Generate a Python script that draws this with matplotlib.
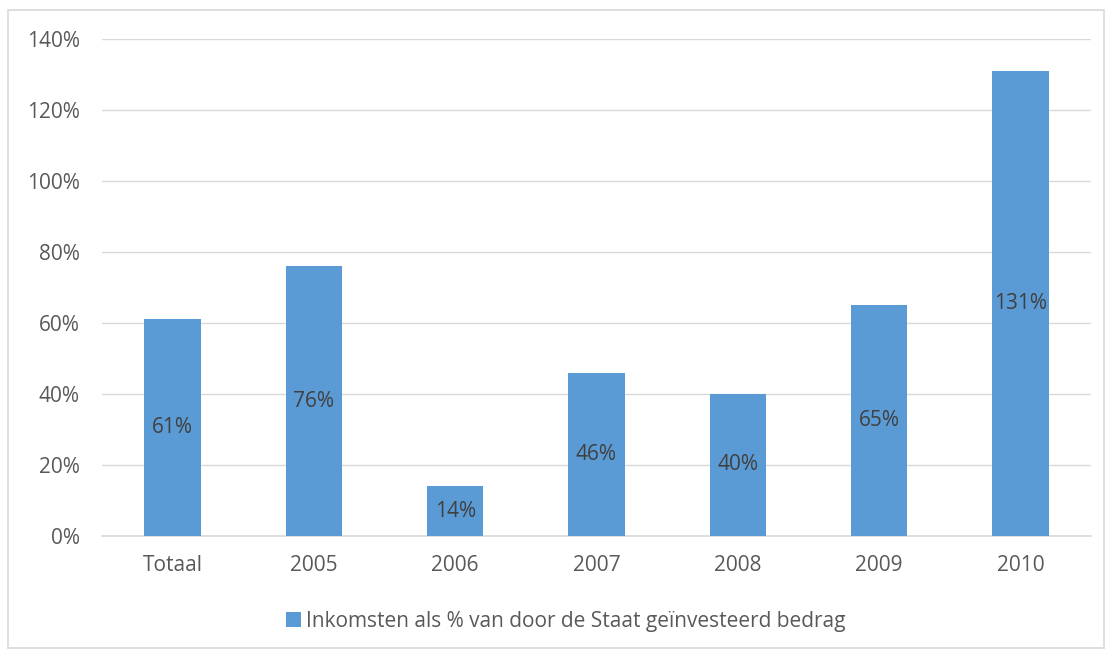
import matplotlib
matplotlib.use("Agg")
import matplotlib.pyplot as plt
from matplotlib.patches import Rectangle

categories = ["Totaal", "2005", "2006", "2007", "2008", "2009", "2010"]
values = [61, 76, 14, 46, 40, 65, 131]
value_labels = ["61%", "76%", "14%", "46%", "40%", "65%", "131%"]
yticks = [0, 20, 40, 60, 80, 100, 120, 140]
legend_label = "Inkomsten als % van door de Staat geïnvesteerd bedrag"

bar_color = "#5B9BD5"
text_color = "#595959"
label_color = "#404040"
grid_color = "#D9D9D9"

plt.rcParams['font.family'] = ['Open Sans', 'DejaVu Sans']
FS = 15

W, H = 1112, 652
fig = plt.figure(figsize=(W / 100, H / 100), dpi=100)
ax = fig.add_axes([102 / W, 1 - 536 / H, (1091 - 102) / W, (536 - 39) / H])

x = list(range(len(categories)))
bars = ax.bar(x, values, width=0.40, color=bar_color, zorder=3, label=legend_label)
ax.set_xlim(-0.5, len(categories) - 0.5)
ax.set_ylim(0, 140)
ax.set_yticks(yticks)
ax.set_yticklabels([f"{v}%" for v in yticks])
ax.set_xticks(x)
ax.set_xticklabels(categories)
ax.tick_params(axis='both', length=0, colors=text_color, labelsize=FS)
ax.tick_params(axis='x', pad=14)
ax.tick_params(axis='y', pad=16)
ax.grid(axis='y', color=grid_color, linewidth=1, zorder=0)
for s in ['top', 'right', 'left']:
    ax.spines[s].set_visible(False)
ax.spines['bottom'].set_color(grid_color)
ax.spines['bottom'].set_linewidth(1.2)

for xi, v, lab in zip(x, values, value_labels):
    ax.text(xi, v / 2, lab, ha='center', va='center', color=label_color, fontsize=FS, zorder=4)

leg = fig.legend(handles=[bars], labels=[legend_label], loc='center', bbox_to_anchor=(0.509, 1 - 621 / H),
                 frameon=False, fontsize=FS, handlelength=0.7, handleheight=0.7, handletextpad=0.25)
for t in leg.get_texts():
    t.set_color(text_color)

fig.patches.append(Rectangle((8 / W, 1 - 648 / H), (1104 - 8) / W, (648 - 10) / H,
                             transform=fig.transFigure, fill=False, edgecolor=grid_color, linewidth=1.2))

fig.savefig("out.png", dpi=100)
